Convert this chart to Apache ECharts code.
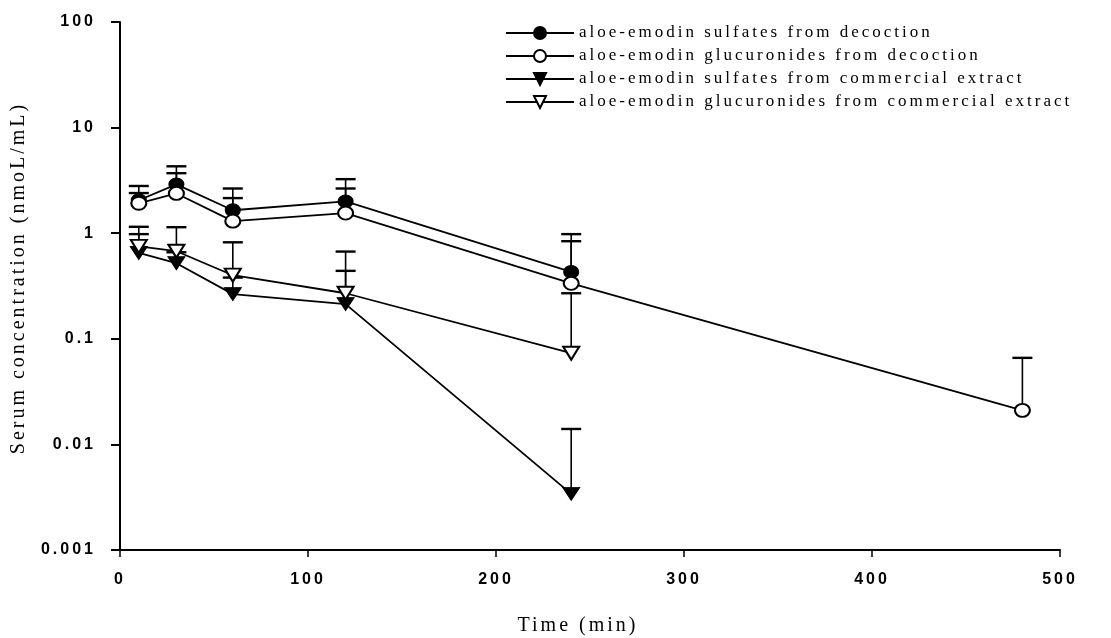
<!DOCTYPE html>
<html>
<head>
<meta charset="utf-8">
<title>Aloe-emodin serum concentration</title>
<script src="https://cdn.jsdelivr.net/npm/echarts@6/dist/echarts.min.js"></script>
<style>
  html, body { margin: 0; padding: 0; background: #fff; }
  #chart { width: 1111px; height: 638px; }
</style>
</head>
<body>
<div id="chart"></div>
<script>
// Sampling times (min)
const timesMin = [10, 30, 60, 120, 240, 480];

// Mean serum concentrations (nmol/mL)
const sulfDecoction   = [2.05, 2.9, 1.65, 2.0, 0.43];
const glucDecoction   = [1.92, 2.38, 1.3, 1.55, 0.335, 0.021];
const sulfCommercial  = [0.65, 0.52, 0.265, 0.213, 0.0034];
const glucCommercial  = [0.75, 0.675, 0.40, 0.27, 0.073];

// Upper end of the error bars (mean + SD)
const sulfDecoctionUpper  = [2.8, 4.3, 2.65, 3.25, 0.98];
const glucDecoctionUpper  = [2.4, 3.7, 2.15, 2.65, 0.84, 0.066];
const sulfCommercialUpper = [0.98, 0.66, 0.38, 0.44, 0.014];
const glucCommercialUpper = [1.15, 1.14, 0.82, 0.67, 0.27];

// Axis tick labels
const yTickLabels = ['0.001', '0.01', '0.1', '1', '10', '100'];

const seriesNames = [
  'aloe-emodin sulfates from decoction',
  'aloe-emodin glucuronides from decoction',
  'aloe-emodin sulfates from commercial extract',
  'aloe-emodin glucuronides from commercial extract'
];

// Typewriter-like tracking for the figure's lettering (applied to drawing and measuring alike)
const TRACKING = '3px';
['fillText', 'measureText'].forEach(function (fn) {
  const orig = CanvasRenderingContext2D.prototype[fn];
  CanvasRenderingContext2D.prototype[fn] = function () {
    this.letterSpacing = TRACKING;
    return orig.apply(this, arguments);
  };
});

const pairs = (vals) => vals.map((v, i) => [timesMin[i], v]);
const bars = (vals, ups) => vals.map((v, i) => [timesMin[i], v, ups[i]]);

const downTriangle = 'path://M0,0 L20,0 L10,16 Z';

function errorBarSeries(vals, ups) {
  return {
    type: 'custom',
    silent: true,
    z: 1,
    encode: { x: 0, y: [1, 2] },
    data: bars(vals, ups),
    renderItem: function (params, api) {
      const base = api.coord([api.value(0), api.value(1)]);
      const top = api.coord([api.value(0), api.value(2)]);
      return {
        type: 'group',
        children: [
          { type: 'line', shape: { x1: base[0], y1: base[1], x2: top[0], y2: top[1] },
            style: { stroke: '#000', lineWidth: 1.6 } },
          { type: 'line', shape: { x1: top[0] - 10, y1: top[1], x2: top[0] + 10, y2: top[1] },
            style: { stroke: '#000', lineWidth: 2.4 } }
        ]
      };
    }
  };
}

function lineSeries(name, vals, symbol, size, filled) {
  return {
    name: name,
    type: 'line',
    z: 3,
    data: pairs(vals),
    symbol: symbol,
    symbolSize: size,
    showAllSymbol: true,
    lineStyle: { color: '#000', width: 1.8 },
    itemStyle: filled
      ? { color: '#000', borderColor: '#000', borderWidth: 1 }
      : { color: '#fff', borderColor: '#000', borderWidth: 2 },
    emphasis: { disabled: true },
    animation: false
  };
}

const chart = echarts.init(document.getElementById('chart'), null, { renderer: 'canvas' });

chart.setOption({
  animation: false,
  backgroundColor: '#fff',
  grid: { left: 120, right: 51, top: 22, bottom: 88, outerBoundsMode: 'none', containLabel: false },
  legend: {
    orient: 'vertical',
    left: 500,
    top: 18,
    itemWidth: 68,
    itemHeight: 15,
    itemGap: 3,
    selectedMode: false,
    data: seriesNames,
    textStyle: { fontFamily: 'Liberation Serif', fontSize: 17, color: '#000' }
  },
  xAxis: {
    type: 'value',
    min: 0,
    max: 500,
    interval: 100,
    name: 'Time (min)',
    nameLocation: 'middle',
    nameGap: 64,
    nameTextStyle: { fontFamily: 'Liberation Serif', fontSize: 20, color: '#000', padding: [0, 24, 0, 0] },
    axisLine: { lineStyle: { color: '#000', width: 2 } },
    axisTick: { length: 7, lineStyle: { color: '#000', width: 1.5 } },
    axisLabel: { margin: 20, fontFamily: 'Liberation Sans', fontSize: 16, fontWeight: 'bold', color: '#000' },
    splitLine: { show: false }
  },
  yAxis: {
    type: 'log',
    logBase: 10,
    min: 0.001,
    max: 100,
    name: 'Serum concentration (nmoL/mL)',
    nameLocation: 'middle',
    nameGap: 83,
    nameTextStyle: { fontFamily: 'Liberation Serif', fontSize: 20, color: '#000', padding: [0, 0, 0, 16] },
    axisLine: { lineStyle: { color: '#000', width: 2 } },
    axisTick: { length: 9, lineStyle: { color: '#000', width: 2 } },
    axisLabel: {
      margin: 24,
      fontFamily: 'Liberation Sans',
      fontSize: 16,
      fontWeight: 'bold',
      color: '#000',
      formatter: (v) => yTickLabels[Math.round(Math.log10(v)) + 3]
    },
    splitLine: { show: false }
  },
  series: [
    errorBarSeries(sulfDecoction, sulfDecoctionUpper),
    errorBarSeries(glucDecoction, glucDecoctionUpper),
    errorBarSeries(sulfCommercial, sulfCommercialUpper),
    errorBarSeries(glucCommercial, glucCommercialUpper),
    lineSeries(seriesNames[0], sulfDecoction, 'circle', [15, 13], true),
    lineSeries(seriesNames[1], glucDecoction, 'circle', [15, 13], false),
    lineSeries(seriesNames[2], sulfCommercial, downTriangle, [17, 13], true),
    lineSeries(seriesNames[3], glucCommercial, downTriangle, [16, 13], false)
  ]
});
</script>
</body>
</html>
